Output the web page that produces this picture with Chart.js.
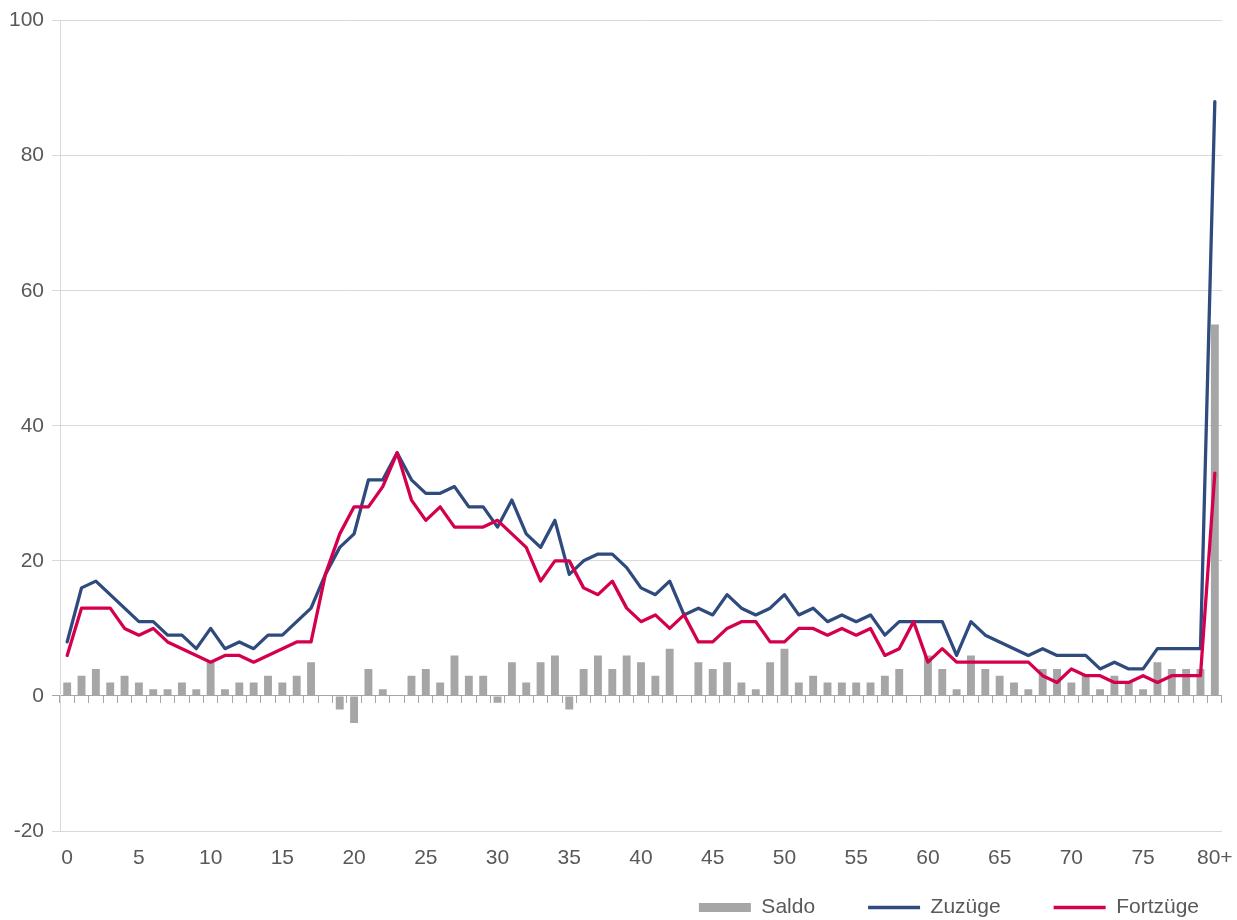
<!DOCTYPE html>
<html>
<head>
<meta charset="utf-8">
<script src="https://cdn.jsdelivr.net/npm/chart.js@4/dist/chart.umd.min.js"></script>
<style>
html,body{margin:0;padding:0;background:#ffffff;}
#c{display:block;}
</style>
</head>
<body>
<canvas id="c" width="1237" height="920"></canvas>
<script>
// ---- Data ----
const ages = ["0","1","2","3","4","5","6","7","8","9",
  "10","11","12","13","14","15","16","17","18","19",
  "20","21","22","23","24","25","26","27","28","29",
  "30","31","32","33","34","35","36","37","38","39",
  "40","41","42","43","44","45","46","47","48","49",
  "50","51","52","53","54","55","56","57","58","59",
  "60","61","62","63","64","65","66","67","68","69",
  "70","71","72","73","74","75","76","77","78","79","80+"];

const saldo = [2,3,4,2,3,2,1,1,2,1,
  5,1,2,2,3,2,3,5,0,-2,
  -4,4,1,0,3,4,2,6,3,3,
  -1,5,2,5,6,-2,4,6,4,6,
  5,3,7,0,5,4,5,2,1,5,
  7,2,3,2,2,2,2,3,4,0,
  6,4,1,6,4,3,2,1,4,4,
  2,3,1,3,2,1,5,4,4,4,55];

const zuzuege = [8,16,17,15,13,11,11,9,9,7,
  10,7,8,7,9,9,11,13,18,22,
  24,32,32,36,32,30,30,31,28,28,
  25,29,24,22,26,18,20,21,21,19,
  16,15,17,12,13,12,15,13,12,13,
  15,12,13,11,12,11,12,9,11,11,
  11,11,6,11,9,8,7,6,7,6,
  6,6,4,5,4,4,7,7,7,7,88];

const fortzuege = [6,13,13,13,10,9,10,8,7,6,
  5,6,6,5,6,7,8,8,18,24,
  28,28,31,36,29,26,28,25,25,25,
  26,24,22,17,20,20,16,15,17,13,
  11,12,10,12,8,8,10,11,11,8,
  8,10,10,9,10,9,10,6,7,11,
  5,7,5,5,5,5,5,5,3,2,
  4,3,3,2,2,3,2,3,3,3,33];

const yTicksMin = -20, yTicksMax = 100, yStep = 20;

// ---- Styling ----
const FONT = "'Liberation Sans', Arial, sans-serif";
const TEXT = '#595959';
const GRID = '#d9d9d9';
const AXIS = '#a6a6a6';
const BLUE = '#2f4a7d';
const RED = '#d5004d';
const GRAY = '#a6a6a6';
const LW = 3.3;

const legendShift = {
  id: 'legendShift',
  afterLayout(chart) {
    const lg = chart.legend;
    if (!lg) return;
    lg.left += 15;
    lg.right += 15;
    lg.top = 844;
    lg.bottom = chart.height;
    lg.height = lg.bottom - lg.top;
  }
};

new Chart(document.getElementById('c'), {
  type: 'bar',
  data: {
    labels: ages,
    datasets: [
      {
        type: 'bar', label: 'Saldo', data: saldo,
        backgroundColor: GRAY, borderWidth: 0,
        barPercentage: 0.55, categoryPercentage: 1,
        pointStyle: 'rect', order: 3
      },
      {
        type: 'line', label: 'Zuzüge', data: zuzuege,
        borderColor: BLUE, backgroundColor: BLUE, borderWidth: LW,
        pointRadius: 0, pointHoverRadius: 0, pointBorderWidth: LW, pointBorderColor: BLUE,
        pointStyle: 'line', tension: 0, fill: false,
        borderJoinStyle: 'round', borderCapStyle: 'round', order: 2
      },
      {
        type: 'line', label: 'Fortzüge', data: fortzuege,
        borderColor: RED, backgroundColor: RED, borderWidth: LW,
        pointRadius: 0, pointHoverRadius: 0, pointBorderWidth: LW, pointBorderColor: RED,
        pointStyle: 'line', tension: 0, fill: false,
        borderJoinStyle: 'round', borderCapStyle: 'round', order: 1
      }
    ]
  },
  options: {
    responsive: false,
    animation: false,
    devicePixelRatio: 1,
    layout: { padding: { top: 18, left: 0, right: 0, bottom: 0 } },
    plugins: {
      tooltip: { enabled: false },
      legend: {
        position: 'bottom', align: 'end', maxHeight: 40,
        labels: {
          usePointStyle: true, pointStyleWidth: 52, boxHeight: 9, padding: 53,
          color: TEXT, font: { family: FONT, size: 21 },
          sort: (a, b) => a.datasetIndex - b.datasetIndex
        }
      }
    },
    scales: {
      x: {
        type: 'category', offset: true,
        grid: { display: false, drawTicks: false },
        border: { display: false },
        ticks: {
          autoSkip: false, maxRotation: 0, minRotation: 0, padding: 15,
          color: TEXT, font: { family: FONT, size: 21 },
          callback: function (v, i) { return i % 5 === 0 ? this.getLabelForValue(v) : ''; }
        },
        afterFit(s) { s.height = 49; s.paddingRight = 15; }
      },
      x2: {
        type: 'category', position: { y: 0 }, offset: true,
        grid: { offset: true, drawOnChartArea: false, drawTicks: true, tickLength: 7, color: AXIS, lineWidth: 1 },
        border: { display: false },
        ticks: { display: false, autoSkip: false }
      },
      y: {
        min: yTicksMin, max: yTicksMax,
        ticks: { stepSize: yStep, padding: 8, color: TEXT, font: { family: FONT, size: 21 } },
        grid: {
          color: c => (c.tick && c.tick.value === 0) ? AXIS : GRID,
          tickLength: 8, lineWidth: 1
        },
        border: { color: GRID },
        afterFit(s) { s.width = 60; }
      }
    }
  },
  plugins: [legendShift]
});
</script>
</body>
</html>
